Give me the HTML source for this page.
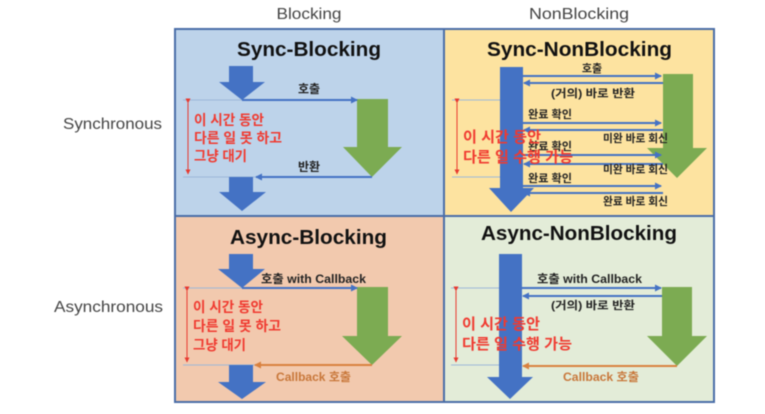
<!DOCTYPE html>
<html><head><meta charset="utf-8">
<style>
html,body{margin:0;padding:0;background:#fff;width:765px;height:414px;overflow:hidden}
svg{display:block;filter:blur(.5px)}
text{font-family:"Liberation Sans","Noto Sans CJK KR",sans-serif}
.t{font-size:20px;font-weight:700;fill:#111}
.l{font-size:11px;font-weight:700;fill:#222}
.r{font-size:14px;font-weight:700;fill:#f03a30}
.o{font-size:16px;fill:#444}
.c{font-size:11px;font-weight:700;fill:#c8773a}
.b{stroke:#4472c4;stroke-width:2;fill:none}
.g{stroke:#d9813f;stroke-width:2;fill:none}
.f{stroke:#e8392f;stroke-width:1;fill:none}
.h{stroke:#9db8d8;stroke-width:1;fill:none}
</style></head><body>
<svg width="765" height="414" viewBox="0 0 765 414" xmlns="http://www.w3.org/2000/svg">
<defs>
<marker id="ab" markerWidth="8" markerHeight="8" refX="6" refY="3.5" orient="auto" markerUnits="userSpaceOnUse"><path d="M0 0L7 3.5L0 7Z" fill="#4472c4"/></marker>
<marker id="ag" markerWidth="8" markerHeight="8" refX="6" refY="3.5" orient="auto" markerUnits="userSpaceOnUse"><path d="M0 0L7 3.5L0 7Z" fill="#d9813f"/></marker>
<marker id="ar" markerWidth="6" markerHeight="6" refX="4.5" refY="2.5" orient="auto" markerUnits="userSpaceOnUse"><path d="M0 0L5 2.5L0 5Z" fill="#e8392f"/></marker>
</defs>

<text class="o" x="309" y="19" text-anchor="middle" textLength="65" lengthAdjust="spacingAndGlyphs">Blocking</text>
<text class="o" x="579" y="19" text-anchor="middle" textLength="100" lengthAdjust="spacingAndGlyphs">NonBlocking</text>
<text class="o" x="63" y="129" textLength="99" lengthAdjust="spacingAndGlyphs">Synchronous</text>
<text class="o" x="54" y="312" textLength="109" lengthAdjust="spacingAndGlyphs">Asynchronous</text>

<rect x="175" y="29" width="269" height="187" fill="#bdd3ea"/>
<rect x="444" y="29" width="270" height="187" fill="#fde3a0"/>
<rect x="175" y="216" width="269" height="186" fill="#f2c9ae"/>
<rect x="444" y="216" width="270" height="186" fill="#e3ecd8"/>
<g fill="none" stroke="#4a6ea8" stroke-width="2">
<rect x="175" y="29" width="269" height="187"/>
<rect x="444" y="29" width="270" height="187"/>
<rect x="175" y="216" width="269" height="186"/>
<rect x="444" y="216" width="270" height="186"/>
</g>

<!-- Q1 -->
<text class="t" x="237" y="56" textLength="144" lengthAdjust="spacingAndGlyphs">Sync-Blocking</text>
<path class="h" d="M183 100H242M183 177H255"/>
<path d="M229 66H253V82H265L242 100L219 82H229Z" fill="#4472c4"/>
<path d="M357 99H388V147H402L372 177L343 147H357Z" fill="#7cab52"/>
<path d="M229 177H253V192H266L242 211L219 192H229Z" fill="#4472c4"/>
<path class="b" d="M242 100H357" marker-end="url(#ab)"/>
<path class="b" d="M372 177H256" marker-end="url(#ab)"/>
<path class="f" d="M188 103V174" marker-start="url(#ar)" marker-end="url(#ar)"/>
<text class="l" x="309" y="93" text-anchor="middle" style="font-size:12px">호출</text>
<text class="l" x="309" y="171" text-anchor="middle" style="font-size:12px">반환</text>
<text class="r" x="194" y="125" textLength="70" lengthAdjust="spacingAndGlyphs">이 시간 동안</text>
<text class="r" x="194" y="143" textLength="88" lengthAdjust="spacingAndGlyphs">다른 일 못 하고</text>
<text class="r" x="194" y="161" textLength="53" lengthAdjust="spacingAndGlyphs">그냥 대기</text>

<!-- Q2 -->
<text class="t" x="487" y="56" textLength="185" lengthAdjust="spacingAndGlyphs">Sync-NonBlocking</text>
<path class="h" d="M452 100H511M452 177H511"/>
<path d="M500 67H523V188H534L511 212L489 188H500Z" fill="#4472c4"/>
<path d="M663 74H693V148H707L677 178L647 148H663Z" fill="#7cab52"/>
<path class="b" d="M523 76H661" marker-end="url(#ab)"/>
<path class="b" d="M663 83H524" marker-end="url(#ab)"/>
<path class="b" d="M523 123H661" marker-end="url(#ab)"/>
<path class="b" d="M663 130H524" marker-end="url(#ab)"/>
<path class="b" d="M523 155H661" marker-end="url(#ab)"/>
<path class="b" d="M663 164H524" marker-end="url(#ab)"/>
<path class="b" d="M523 186H661" marker-end="url(#ab)"/>
<path class="b" d="M663 193H524" marker-end="url(#ab)"/>
<path class="f" d="M457 103V174" marker-start="url(#ar)" marker-end="url(#ar)"/>
<text class="l" x="592" y="72" text-anchor="middle">호출</text>
<text class="l" x="593" y="97" text-anchor="middle" textLength="84" lengthAdjust="spacingAndGlyphs">(거의) 바로 반환</text>
<text class="l" x="528" y="118" textLength="44" lengthAdjust="spacingAndGlyphs">완료 확인</text>
<text class="l" x="528" y="150" textLength="44" lengthAdjust="spacingAndGlyphs">완료 확인</text>
<text class="l" x="528" y="182" textLength="44" lengthAdjust="spacingAndGlyphs">완료 확인</text>
<text class="l" x="603" y="142" textLength="65" lengthAdjust="spacingAndGlyphs">미완 바로 회신</text>
<text class="l" x="603" y="173" textLength="65" lengthAdjust="spacingAndGlyphs">미완 바로 회신</text>
<text class="l" x="603" y="205" textLength="65" lengthAdjust="spacingAndGlyphs">완료 바로 회신</text>
<text class="r" x="463" y="142" style="font-size:15px" textLength="78" lengthAdjust="spacingAndGlyphs">이 시간 동안</text>
<text class="r" x="463" y="162" style="font-size:15px" textLength="110" lengthAdjust="spacingAndGlyphs">다른 일 수행 가능</text>

<!-- Q3 -->
<text class="t" x="230" y="244" textLength="157" lengthAdjust="spacingAndGlyphs">Async-Blocking</text>
<path class="h" d="M183 288H242M183 365H255"/>
<path d="M229 254H253V269H265L242 288L218 269H229Z" fill="#4472c4"/>
<path d="M357 287H388V336H402L372 365L342 336H357Z" fill="#7cab52"/>
<path d="M229 365H253V382H266L242 399L218 382H229Z" fill="#4472c4"/>
<path class="b" d="M242 288H357" marker-end="url(#ab)"/>
<path class="g" d="M372 365H255" marker-end="url(#ag)"/>
<path class="f" d="M187 291V362" marker-start="url(#ar)" marker-end="url(#ar)"/>
<text class="l" x="261" y="283" textLength="105" lengthAdjust="spacingAndGlyphs" style="font-size:12px">호출 with Callback</text>
<text class="c" x="276" y="381" textLength="75" lengthAdjust="spacingAndGlyphs" style="font-size:12px">Callback 호출</text>
<text class="r" x="193" y="312" textLength="70" lengthAdjust="spacingAndGlyphs">이 시간 동안</text>
<text class="r" x="193" y="331" textLength="88" lengthAdjust="spacingAndGlyphs">다른 일 못 하고</text>
<text class="r" x="193" y="350" textLength="53" lengthAdjust="spacingAndGlyphs">그냥 대기</text>

<!-- Q4 -->
<text class="t" x="481" y="240" textLength="196" lengthAdjust="spacingAndGlyphs">Async-NonBlocking</text>
<path class="h" d="M451 288H510M451 365H510"/>
<path d="M499 254H522V377H533L510 399L487 377H499Z" fill="#4472c4"/>
<path d="M662 287H692V336H707L677 366L647 336H662Z" fill="#7cab52"/>
<path class="b" d="M522 288H661" marker-end="url(#ab)"/>
<path class="b" d="M662 296H523" marker-end="url(#ab)"/>
<path class="g" d="M677 366H523" marker-end="url(#ag)"/>
<path class="f" d="M456 291V362" marker-start="url(#ar)" marker-end="url(#ar)"/>
<text class="l" x="537" y="283" textLength="105" lengthAdjust="spacingAndGlyphs" style="font-size:12px">호출 with Callback</text>
<text class="l" x="551" y="309" textLength="84" lengthAdjust="spacingAndGlyphs">(거의) 바로 반환</text>
<text class="c" x="563" y="381" textLength="76" lengthAdjust="spacingAndGlyphs" style="font-size:12px">Callback 호출</text>
<text class="r" x="462" y="329" style="font-size:15px" textLength="78" lengthAdjust="spacingAndGlyphs">이 시간 동안</text>
<text class="r" x="462" y="349" style="font-size:15px" textLength="110" lengthAdjust="spacingAndGlyphs">다른 일 수행 가능</text>
</svg>
</body></html>
